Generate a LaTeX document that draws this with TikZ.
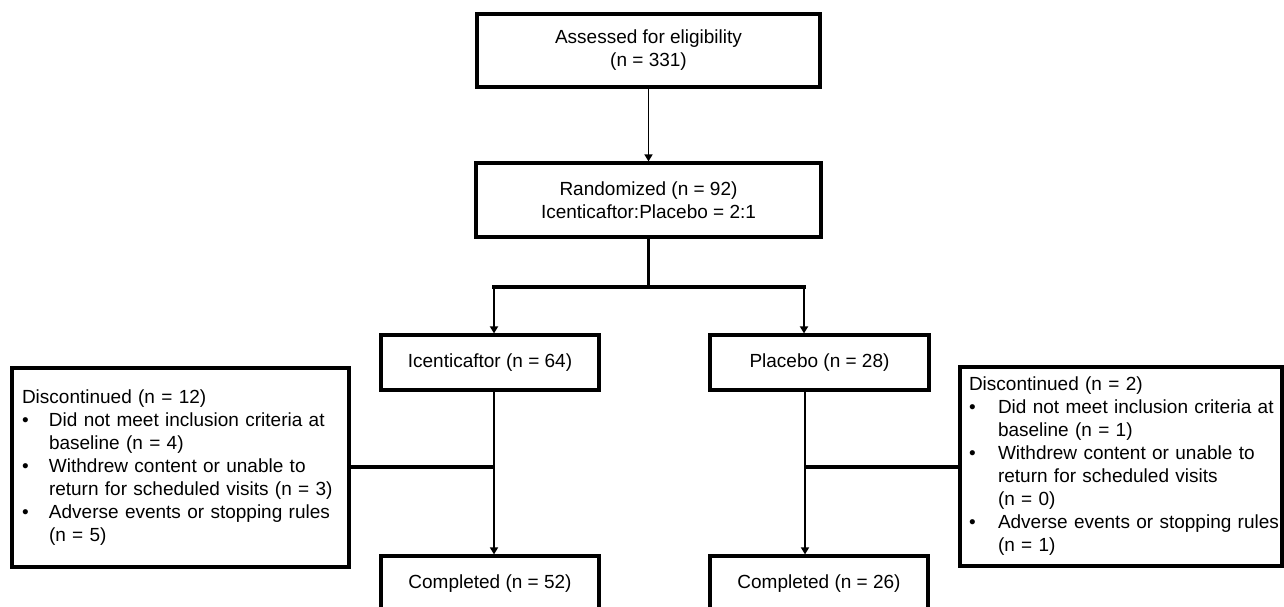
\documentclass[tikz,border=0pt]{standalone}
\usepackage{fontspec}
\setmainfont{Liberation Sans}
\usetikzlibrary{arrows.meta}
\tikzset{
  box/.style={draw=black, line width=3.2pt, fill=white, inner sep=0pt,
    font=\fontsize{19}{23}\selectfont, align=center},
  dbox/.style={draw=black, line width=3.2pt, fill=white, inner ysep=0pt,
    font=\fontsize{19}{23}\selectfont, align=left, minimum height=199pt},
  thinarr/.style={line width=1.6pt, -{Triangle[width=8pt,length=7pt]}},
  midarr/.style={line width=2.2pt, -{Triangle[width=8pt,length=7pt]}},
  thickline/.style={line width=3.2pt},
}
\newcommand{\bul}[1]{\makebox[#1][l]{•}}
\begin{document}
\begin{tikzpicture}[x=1pt,y=-1pt]
\clip (0,0) rectangle (1284,607);
\fill[white] (0,0) rectangle (1284,607);

\node[box, minimum width=343pt, minimum height=73pt] (assess) at (648.5,50.5)
  {Assessed for eligibility\\(n = 331)};
\node[box, minimum width=345pt, minimum height=74pt] (rand) at (648.5,200)
  {Randomized (n = 92)\\Icenticaftor:Placebo = 2:1};
\node[box, minimum width=218pt, minimum height=55pt] (icen) at (490,362.5)
  {Icenticaftor (n = 64)};
\node[box, minimum width=219pt, minimum height=55pt] (plac) at (819.5,362.5)
  {Placebo (n = 28)};
\node[box, minimum width=218pt, minimum height=55pt] (comp1) at (490,583.5)
  {Completed (n = 52)};
\node[box, minimum width=218pt, minimum height=55pt] (comp2) at (819,583.5)
  {Completed (n = 26)};

\node[dbox, inner xsep=10pt, text width=317pt] (dl) at (180.5,467.5)
  {Discontinued (n = 12)\\
   \mbox{\bul{27pt}Did not meet inclusion criteria at}\\
   \mbox{\hspace*{27pt}baseline (n = 4)}\\
   \mbox{\bul{27pt}Withdrew content or unable to}\\
   \mbox{\hspace*{27pt}return for scheduled visits (n = 3)}\\
   \mbox{\bul{27pt}Adverse events or stopping rules}\\
   \mbox{\hspace*{27pt}(n = 5)}};
\node[dbox, inner xsep=9pt, text width=304pt] (dr) at (1121,466.5)
  {Discontinued (n = 2)\\
   \mbox{\bul{29pt}Did not meet inclusion criteria at}\\
   \mbox{\hspace*{29pt}baseline (n = 1)}\\
   \mbox{\bul{29pt}Withdrew content or unable to}\\
   \mbox{\hspace*{29pt}return for scheduled visits}\\
   \mbox{\hspace*{29pt}(n = 0)}\\
   \mbox{\bul{29pt}Adverse events or stopping rules}\\
   \mbox{\hspace*{29pt}(n = 1)}};

\coordinate (sp) at (648.5,287);
\coordinate (spL) at (494,287);
\coordinate (spR) at (804,287);
\coordinate (jL) at (494,467);
\coordinate (jR) at (805,467);

\draw[thinarr] (assess.south) -- (rand.north);
\draw[thickline] (rand.south) -- (sp);
\draw[thickline, line cap=rect] (spL) -- (spR);
\draw[midarr] (spL) -- (spL |- icen.north);
\draw[midarr] (spR) -- (spR |- plac.north);
\draw[thinarr] (icen.south -| jL) -- (comp1.north -| jL);
\draw[thinarr] (plac.south -| jR) -- (comp2.north -| jR);
\draw[thickline] (dl.east |- jL) -- (jL);
\draw[thickline] (jR) -- (dr.west |- jR);
\end{tikzpicture}
\end{document}
